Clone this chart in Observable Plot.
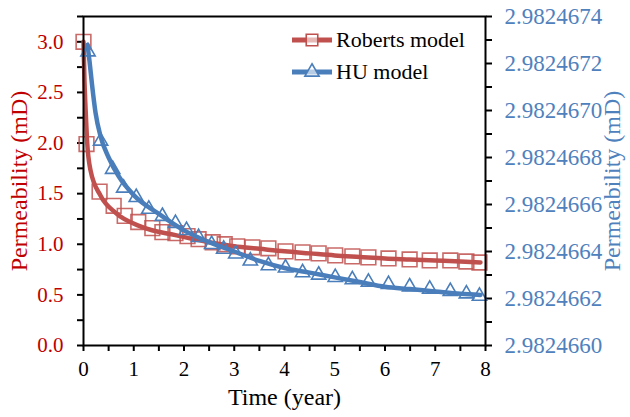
<!DOCTYPE html>
<html>
<head>
<meta charset="utf-8">
<script src="https://cdn.jsdelivr.net/npm/d3@7"></script>
<script src="https://cdn.jsdelivr.net/npm/@observablehq/plot@0.6"></script>
<style>
  body { margin: 0; background: white; }
  #wrap { position: relative; width: 630px; height: 417px; }
  #legend { position: absolute; left: 290px; top: 24px; font-family: "Liberation Serif", "Times New Roman", serif; font-size: 22px; color: black; }
  #legend .row { display: flex; align-items: center; height: 32px; }
  #legend svg { margin-right: 2px; }
  g[aria-label="y-axis label"], g[aria-label="x-axis label"] { font-size: 24px; }
</style>
</head>
<body>
<div id="wrap"><div id="chart"></div><div id="legend"></div></div>
<script>
// ---- data ----
const seriesNames = ["Roberts model", "HU model"];
const seriesColors = ["#c0504d", "#4a7ebb"];

// Roberts model (left axis, mD)
const robertsLineT = [0, 0.02, 0.04, 0.07, 0.14, 0.34, 0.64, 1.17, 1.83, 2.5, 3.0, 3.5, 4.0, 4.5, 5.0, 5.5, 6.0, 6.5, 7.0, 7.5, 7.9];
const robertsLineV = [3.0, 2.6, 2.35, 2.03, 1.73, 1.48, 1.31, 1.17, 1.09, 1.02, 0.98, 0.955, 0.93, 0.91, 0.89, 0.875, 0.86, 0.85, 0.84, 0.83, 0.82];
const robertsMarkT = [0, 0.06, 0.32, 0.6, 0.82, 1.09, 1.37, 1.57, 1.83, 2.07, 2.29, 2.57, 2.81, 3.06, 3.36, 3.68, 4.02, 4.36, 4.68, 5.01, 5.35, 5.67, 6.07, 6.49, 6.89, 7.30, 7.62, 7.88];
const robertsMarkV = [3.0, 1.99, 1.52, 1.38, 1.28, 1.22, 1.16, 1.12, 1.11, 1.08, 1.05, 1.02, 1.00, 0.98, 0.97, 0.96, 0.93, 0.92, 0.91, 0.89, 0.88, 0.87, 0.86, 0.85, 0.84, 0.84, 0.83, 0.82];

// HU model (right axis, mD)
const huLineT = [0.08, 0.12, 0.17, 0.24, 0.34, 0.5, 0.7, 1.0, 1.5, 2.0, 2.5, 3.0, 3.5, 4.0, 4.5, 5.0, 5.5, 6.0, 6.5, 7.0, 7.5, 7.9];
const huLineV = [2.98246728, 2.98246721, 2.98246711, 2.98246699, 2.98246689, 2.98246680, 2.98246672, 2.98246664, 2.98246656, 2.98246649, 2.98246644, 2.98246640, 2.98246636, 2.98246633, 2.98246631, 2.98246629, 2.98246627, 2.98246625, 2.98246624, 2.98246623, 2.98246622, 2.982466215];
const huMarkT = [0.09, 0.34, 0.58, 0.8, 1.05, 1.3, 1.57, 1.83, 2.05, 2.29, 2.55, 2.79, 3.03, 3.32, 3.68, 4.02, 4.36, 4.68, 5.01, 5.35, 5.67, 6.07, 6.49, 6.89, 7.30, 7.62, 7.88];
const huMarkV = [2.98246725, 2.98246687, 2.98246675, 2.98246667, 2.98246663, 2.98246658, 2.98246655, 2.98246652, 2.98246649, 2.98246646, 2.98246643, 2.98246641, 2.98246639, 2.98246636, 2.98246634, 2.98246633, 2.98246631, 2.98246630, 2.98246629, 2.98246628, 2.98246627, 2.98246626, 2.98246625, 2.98246624, 2.98246623, 2.98246622, 2.98246621];

// ticks
const xTicks = [0, 1, 2, 3, 4, 5, 6, 7, 8];
const xMinorTicks = [0.5, 1.5, 2.5, 3.5, 4.5, 5.5, 6.5, 7.5];
const leftTicks = [0, 0.5, 1.0, 1.5, 2.0, 2.5, 3.0];
const leftMinorTicks = [0.25, 0.75, 1.25, 1.75, 2.25, 2.75, 3.25];
const rightTicks = [2.9824660, 2.9824662, 2.9824664, 2.9824666, 2.9824668, 2.9824670, 2.9824672, 2.9824674];
const rightMinorTicks = [2.9824661, 2.9824663, 2.9824665, 2.9824667, 2.9824669, 2.9824671, 2.9824673];

const leftDomain = [0, 3.25];
const rightDomain = [2.9824660, 2.9824674];
const toLeft = v => (v - rightDomain[0]) / (rightDomain[1] - rightDomain[0]) * (leftDomain[1] - leftDomain[0]) + leftDomain[0];
const toRight = l => (l - leftDomain[0]) / (leftDomain[1] - leftDomain[0]) * (rightDomain[1] - rightDomain[0]) + rightDomain[0];

const font = "'Liberation Serif', 'Times New Roman', serif";
const red = "#c00000", blue = "#4f81bd";

const chart = Plot.plot({
  width: 630,
  height: 417,
  marginLeft: 83,
  marginRight: 145,
  marginTop: 16,
  marginBottom: 72,
  style: { fontFamily: font, background: "white", overflow: "visible" },
  x: { domain: [0, 8] },
  y: { domain: leftDomain },
  marks: [
    // x axis
    Plot.axisX({ ticks: xTicks, tickFormat: d => String(d), tickSize: 6, tickPadding: 10, strokeWidth: 2, stroke: "black", fill: "black", fontSize: 21,
      label: "Time (year)", labelAnchor: "center", labelArrow: "none", labelOffset: 59 }),
    Plot.axisX({ ticks: xMinorTicks, tickSize: 6, strokeWidth: 2, stroke: "black", fill: "none", label: null }),
    // left axis
    Plot.axisY({ anchor: "left", ticks: leftTicks, tickFormat: d => d.toFixed(1), tickSize: 6, tickPadding: 14, strokeWidth: 2, stroke: "black", fill: red, fontSize: 21,
      label: "Permeability (mD)", labelAnchor: "center", labelArrow: "none", labelOffset: 74 }),
    Plot.axisY({ anchor: "left", ticks: leftMinorTicks, tickSize: 6, strokeWidth: 2, stroke: "black", fill: "none", label: null }),
    // right axis
    Plot.axisY({ anchor: "right", ticks: rightTicks.map(toLeft), tickFormat: d => toRight(d).toFixed(7), tickSize: 6, tickPadding: 13, strokeWidth: 2, stroke: "black", fill: blue, fontSize: 23,
      label: "Permeability (mD)", labelAnchor: "center", labelArrow: "none", labelOffset: 134 }),
    Plot.axisY({ anchor: "right", ticks: rightMinorTicks.map(toLeft), tickSize: 6, strokeWidth: 2, stroke: "black", fill: "none", label: null }),
    // series
    Plot.line(robertsLineV, { x: robertsLineT, y: robertsLineV, stroke: seriesColors[0], strokeWidth: 4.5, curve: "monotone-x" }),
    Plot.dot(robertsMarkV, { x: robertsMarkT, y: robertsMarkV, symbol: "square", r: 8.3, stroke: seriesColors[0], strokeOpacity: 0.85, strokeWidth: 1.6, fill: "none" }),
    Plot.line(huLineV, { x: huLineT, y: huLineV.map(toLeft), stroke: seriesColors[1], strokeWidth: 4.5, curve: "monotone-x" }),
    Plot.dot(huMarkV, { x: huMarkT, y: huMarkV.map(toLeft), symbol: "triangle", r: 5.3, stroke: seriesColors[1], strokeWidth: 1.6, fill: "none" }),
    Plot.frame({ stroke: "black", strokeWidth: 2 })
  ]
});
document.getElementById("chart").appendChild(chart);

// legend
const legend = document.getElementById("legend");
seriesNames.forEach((name, i) => {
  const row = document.createElement("div");
  row.className = "row";
  const ns = "http://www.w3.org/2000/svg";
  const svg = document.createElementNS(ns, "svg");
  svg.setAttribute("width", 44); svg.setAttribute("height", 30);
  const line = document.createElementNS(ns, "line");
  line.setAttribute("x1", 2); line.setAttribute("x2", 42); line.setAttribute("y1", 15); line.setAttribute("y2", 15);
  line.setAttribute("stroke", seriesColors[i]); line.setAttribute("stroke-width", 5);
  svg.appendChild(line);
  const sym = document.createElementNS(ns, "path");
  sym.setAttribute("transform", "translate(22,15)");
  sym.setAttribute("d", d3.symbol(i === 0 ? d3.symbolSquare : d3.symbolTriangle, Math.PI * (i === 0 ? 6.5 : 5.3) ** 2)());
  sym.setAttribute("fill", "white"); sym.setAttribute("fill-opacity", 0.6);
  sym.setAttribute("stroke", seriesColors[i]); sym.setAttribute("stroke-width", 1.6);
  svg.appendChild(sym);
  const span = document.createElement("span");
  span.textContent = name;
  row.appendChild(svg); row.appendChild(span);
  legend.appendChild(row);
});
</script>
</body>
</html>
